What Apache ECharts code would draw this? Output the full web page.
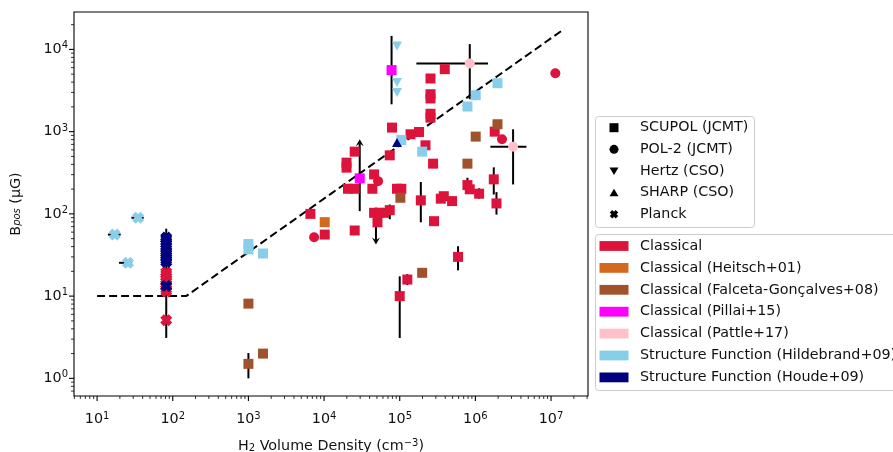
<!DOCTYPE html>
<html>
<head>
<meta charset="utf-8">
<script src="https://cdn.jsdelivr.net/npm/echarts@6/dist/echarts.min.js"></script>
<style>
html, body { margin: 0; padding: 0; background: #fff; }
#chart { width: 893px; height: 452px; }
</style>
</head>
<body>
<div id="chart"></div>
<script>
// ---- Measurements: [H2 volume density (cm^-3), B_pos (uG)] ----
const classicalScupol = [
  [394000, 5750], [255000, 4430], [255000, 2850], [255000, 2530], [255000, 1650], [255000, 1480],
  [79000, 1120], [139000, 929], [180000, 990], [219000, 682], [73800, 515], [276000, 408],
  [1800000, 1000], [1750000, 263], [1900000, 134], [785000, 224], [843000, 199], [1120000, 176],
  [190000, 146], [349000, 153], [382000, 164], [492000, 143], [284000, 81.5], [92000, 202],
  [105000, 202], [45800, 302], [43500, 202], [19800, 420], [19800, 365], [25400, 571],
  [20700, 202], [25400, 202], [45800, 103], [53300, 103], [62100, 103], [73800, 111],
  [50800, 79], [25400, 62.8], [6600, 100], [10200, 56], [100000, 10], [126000, 15.9], [590000, 30]
];
const classicalPol2 = [[11400000, 5140], [2250000, 807], [51700, 250], [7380, 52]];
const classicalPlanck = [[82, 5.1], [82, 11.4], [82, 12.2], [82, 13], [82, 14], [82, 15], [82, 16], [82, 17.2], [82, 18.4], [82, 19.5]];
const heitschScupol = [[10200, 79.3]];
const falcetaScupol = [[1000, 8.1], [1000, 1.5], [1560, 2.0], [1960000, 1230], [1010000, 870], [785000, 408], [102000, 157], [198000, 19.2]];
const pillaiScupol = [[78000, 5600], [29600, 270]];
const pattlePol2 = [[843000, 6750], [3150000, 657]];
const hildebrandScupol = [[1000, 43], [1000, 37], [1560, 33], [1960000, 3880], [1010000, 2770], [785000, 2020], [105000, 791], [198000, 571]];
const hildebrandHertz = [[92000, 11000], [92000, 3960], [92000, 2990]];
const hildebrandPlanck = [[17.1, 56], [25.6, 25.4], [34.8, 89.7]];
const houdeSharp = [[92000, 736]];
const houdePlanck = [[82, 13.3], [82, 26], [82, 27.5], [82, 29], [82, 31], [82, 33], [82, 35], [82, 37.5], [82, 40], [82, 43], [82, 46], [82, 49], [82, 51.5]];

// Uncertainty segments: [x1, y1, x2, y2]
const errorBars = [
  [13.9, 56, 20.5, 56], [19.5, 25.4, 29, 25.4], [28.4, 89.7, 41.3, 89.7],
  [82, 3.1, 82, 66],
  [1000, 1.0, 1000, 2.03],
  [78000, 2150, 78000, 14600],
  [166000, 6750, 1470000, 6750], [843000, 2480, 843000, 11600],
  [1580000, 657, 4730000, 657], [3150000, 228, 3150000, 1068],
  [100000, 3.1, 100000, 17.4], [126000, 13.6, 126000, 18.5], [590000, 20.6, 590000, 40.4],
  [190000, 79, 190000, 244], [1750000, 172, 1750000, 368], [1900000, 98, 1900000, 184],
  [1120000, 153, 1120000, 205], [785000, 181, 785000, 275], [73800, 86, 73800, 130],
  [25400, 62.8, 25400, 70]
];
// Limits drawn as arrows: [x, from, to]
const limitArrows = [[29600, 108, 807], [48500, 119, 42.4]];

// Crutcher et al. (2010) relation
const crutcherLine = [[10, 10], [150, 10], [15000000, 17783]];

// Axis ranges and tick decades
const X_MIN = 4.95, X_MAX = 3.08e7, Y_MIN = 0.61, Y_MAX = 28500;
const xDecades = [0, 1, 2, 3, 4, 5, 6, 7];
const yDecades = [-1, 0, 1, 2, 3, 4];

const instrumentNames = ['SCUPOL (JCMT)', 'POL-2 (JCMT)', 'Hertz (CSO)', 'SHARP (CSO)', 'Planck'];
const instrumentShapes = ['square', 'circle', 'down', 'up', 'cross'];
const categoryNames = [
  'Classical', 'Classical (Heitsch+01)', 'Classical (Falceta-Gonçalves+08)',
  'Classical (Pillai+15)', 'Classical (Pattle+17)',
  'Structure Function (Hildebrand+09)', 'Structure Function (Houde+09)'
];
const categoryColors = ['#DC143C', '#D2691E', '#A0522D', '#FF00FF', '#FFC0CB', '#87CEEB', '#000080'];

const FONT = 'DejaVu Sans';
const FS = 14.3;
const XMARK = 'path://M3,0L5,2L7,0L10,3L8,5L10,7L7,10L5,8L3,10L0,7L2,5L0,3Z';

// tick positions (major on decades, minor at 2..9 x decade)
const tickData = [];
xDecades.forEach(d => {
  for (let m = 1; m <= 9; m++) {
    const v = m * Math.pow(10, d);
    if (v > X_MIN && v < X_MAX) tickData.push([v, Y_MIN, m === 1 ? 1 : 0, 0]);
  }
});
yDecades.forEach(d => {
  for (let m = 1; m <= 9; m++) {
    const v = m * Math.pow(10, d);
    if (v > Y_MIN && v < Y_MAX) tickData.push([X_MIN, v, m === 1 ? 1 : 0, 1]);
  }
});

function decadeLabel(v) {
  const e = Math.log10(v);
  const r = Math.round(e);
  if (Math.abs(e - r) > 1e-6) return '';
  return '{b|10}{s|' + r + '}';
}
const tickRich = {
  b: { fontSize: FS, fontFamily: FONT, color: '#111' },
  s: { fontSize: 10, fontFamily: FONT, color: '#111', padding: [0, 0, 7, 0] }
};

function scatter(name, color, data, symbol, size, rotate) {
  return {
    type: 'scatter', name: name, data: data, symbol: symbol, symbolSize: size,
    symbolRotate: rotate || 0, z: 4,
    itemStyle: { color: color, opacity: 1 },
    emphasis: { disabled: true }, silent: true
  };
}

const series = [
  {
    type: 'line', name: 'crutcher', data: crutcherLine, symbol: 'none', z: 2, silent: true,
    lineStyle: { color: '#000', width: 2, type: [8, 4] }
  },
  {
    type: 'custom', name: 'errors', data: errorBars, z: 3, silent: true, clip: false,
    encode: { x: [0, 2], y: [1, 3] },
    renderItem: function (params, api) {
      const a = api.coord([api.value(0), api.value(1)]);
      const b = api.coord([api.value(2), api.value(3)]);
      return { type: 'line', shape: { x1: a[0], y1: a[1], x2: b[0], y2: b[1] }, style: { stroke: '#000', lineWidth: 2 } };
    }
  },
  {
    type: 'custom', name: 'limits', data: limitArrows, z: 3, silent: true, clip: false,
    encode: { x: 0, y: [1, 2] },
    renderItem: function (params, api) {
      const a = api.coord([api.value(0), api.value(1)]);
      const t = api.coord([api.value(0), api.value(2)]);
      const dir = t[1] < a[1] ? 1 : -1;
      const hl = 7, hw = 4;
      return {
        type: 'group', children: [
          { type: 'line', shape: { x1: a[0], y1: a[1], x2: t[0], y2: t[1] + dir * hl * 0.6 }, style: { stroke: '#000', lineWidth: 2 } },
          { type: 'polygon', shape: { points: [[t[0], t[1]], [t[0] - hw, t[1] + dir * hl], [t[0], t[1] + dir * hl * 0.6], [t[0] + hw, t[1] + dir * hl]] }, style: { fill: '#000' } }
        ]
      };
    }
  },
  {
    type: 'custom', name: 'ticks', data: tickData, z: 5, silent: true, clip: false,
    encode: { x: 0, y: 1 },
    renderItem: function (params, api) {
      const p = api.coord([api.value(0), api.value(1)]);
      const major = api.value(2) === 1;
      const len = major ? 5 : 3;
      const w = major ? 1.1 : 0.8;
      if (api.value(3) === 0) {
        return { type: 'line', shape: { x1: p[0], y1: p[1], x2: p[0], y2: p[1] + len }, style: { stroke: '#000', lineWidth: w } };
      }
      return { type: 'line', shape: { x1: p[0], y1: p[1], x2: p[0] - len, y2: p[1] }, style: { stroke: '#000', lineWidth: w } };
    }
  },
  scatter(categoryNames[0], categoryColors[0], classicalScupol, 'rect', 10),
  scatter(categoryNames[0], categoryColors[0], classicalPol2, 'circle', 10),
  scatter(categoryNames[0], categoryColors[0], classicalPlanck, XMARK, 12),
  scatter(categoryNames[1], categoryColors[1], heitschScupol, 'rect', 10),
  scatter(categoryNames[2], categoryColors[2], falcetaScupol, 'rect', 10),
  scatter(categoryNames[3], categoryColors[3], pillaiScupol, 'rect', 10),
  scatter(categoryNames[4], categoryColors[4], pattlePol2, 'circle', 10),
  scatter(categoryNames[5], categoryColors[5], hildebrandScupol, 'rect', 10),
  scatter(categoryNames[5], categoryColors[5], hildebrandHertz, 'triangle', [10, 9], 180),
  scatter(categoryNames[5], categoryColors[5], hildebrandPlanck, XMARK, 12),
  scatter(categoryNames[6], categoryColors[6], houdeSharp, 'triangle', [10, 9]),
  scatter(categoryNames[6], categoryColors[6], houdePlanck, XMARK, 12)
];

// ---- Legend boxes (instrument shapes, then colour categories) ----
const LEG_X = 595.5, ICON_CX = 614, TEXT_X = 640;
const legendFont = FS + 'px "' + FONT + '"';

function markerIcon(shape, cx, cy) {
  const h = 4.5;
  if (shape === 'circle') return { type: 'circle', shape: { cx: cx, cy: cy, r: h }, style: { fill: '#000' } };
  let pts;
  if (shape === 'square') pts = [[cx - h, cy - h], [cx + h, cy - h], [cx + h, cy + h], [cx - h, cy + h]];
  else if (shape === 'down') pts = [[cx - h, cy - 3.5], [cx + h, cy - 3.5], [cx, cy + 4]];
  else if (shape === 'up') pts = [[cx, cy - 4], [cx + h, cy + 3.5], [cx - h, cy + 3.5]];
  else {
    const u = 0.85;
    const raw = [[3, 0], [5, 2], [7, 0], [10, 3], [8, 5], [10, 7], [7, 10], [5, 8], [3, 10], [0, 7], [2, 5], [0, 3]];
    pts = raw.map(p => [cx + (p[0] - 5) * u, cy + (p[1] - 5) * u]);
  }
  return { type: 'polygon', shape: { points: pts }, style: { fill: '#000' } };
}

const graphics = [];
// instrument box
const box1Top = 116.5, row1 = 127.7, step1 = 21.65;
graphics.push({ type: 'rect', shape: { x: LEG_X, y: box1Top, width: 159, height: 111, r: 3 }, style: { fill: '#fff', stroke: '#cccccc', lineWidth: 1 }, z: 10 });
instrumentNames.forEach((n, i) => {
  const cy = row1 + i * step1;
  const icon = markerIcon(instrumentShapes[i], ICON_CX, cy);
  icon.z = 11;
  graphics.push(icon);
  graphics.push({ type: 'text', z: 11, style: { text: n, x: TEXT_X, y: cy, font: legendFont, fill: '#111', verticalAlign: 'middle', align: 'left' } });
});
// category box
const box2Top = 234.5, row2 = 246, step2 = 21.9;
graphics.push({ type: 'rect', shape: { x: LEG_X, y: box2Top, width: 330, height: 156, r: 3 }, style: { fill: '#fff', stroke: '#cccccc', lineWidth: 1 }, z: 10 });
categoryNames.forEach((n, i) => {
  const cy = row2 + i * step2;
  graphics.push({ type: 'rect', z: 11, shape: { x: 599.5, y: cy - 4.9, width: 29, height: 9.8 }, style: { fill: categoryColors[i] } });
  graphics.push({ type: 'text', z: 11, style: { text: n, x: TEXT_X, y: cy, font: legendFont, fill: '#111', verticalAlign: 'middle', align: 'left' } });
});

const option = {
  backgroundColor: '#fff',
  animation: false,
  grid: {
    left: 74, right: 305, top: 12, bottom: 56, containLabel: false, outerBoundsMode: 'none',
    show: true, borderColor: '#000', borderWidth: 1.1, backgroundColor: 'transparent'
  },
  xAxis: {
    type: 'log', logBase: 10, min: X_MIN, max: X_MAX,
    axisLine: { show: false }, axisTick: { show: false }, splitLine: { show: false },
    axisLabel: { formatter: decadeLabel, rich: tickRich, margin: 15, showMinLabel: false, showMaxLabel: false },
    name: '{b|H}{sub|2}{b| Volume Density (cm}{sup|−3}{b|)}',
    nameLocation: 'middle', nameGap: 42,
    nameTextStyle: {
      rich: {
        b: { fontSize: FS, fontFamily: FONT, color: '#111', padding: [0, 0, 3, 0] },
        sub: { fontSize: 10, fontFamily: FONT, color: '#111' },
        sup: { fontSize: 10, fontFamily: FONT, color: '#111', padding: [0, 0, 10, 0] }
      }
    }
  },
  yAxis: {
    type: 'log', logBase: 10, min: Y_MIN, max: Y_MAX,
    axisLine: { show: false }, axisTick: { show: false }, splitLine: { show: false },
    axisLabel: { formatter: decadeLabel, rich: tickRich, margin: 6, showMinLabel: false, showMaxLabel: false },
    name: '{b|B}{sub|pos}{b| (μG)}',
    nameLocation: 'middle', nameGap: 48, nameRotate: 90,
    nameTextStyle: {
      rich: {
        b: { fontSize: FS, fontFamily: FONT, color: '#111', padding: [0, 0, 3, 0] },
        sub: { fontSize: 10, fontFamily: FONT, color: '#111', fontStyle: 'italic' }
      }
    }
  },
  graphic: graphics,
  series: series
};

const chart = echarts.init(document.getElementById('chart'), null, { renderer: 'canvas' });
chart.setOption(option);
</script>
</body>
</html>
